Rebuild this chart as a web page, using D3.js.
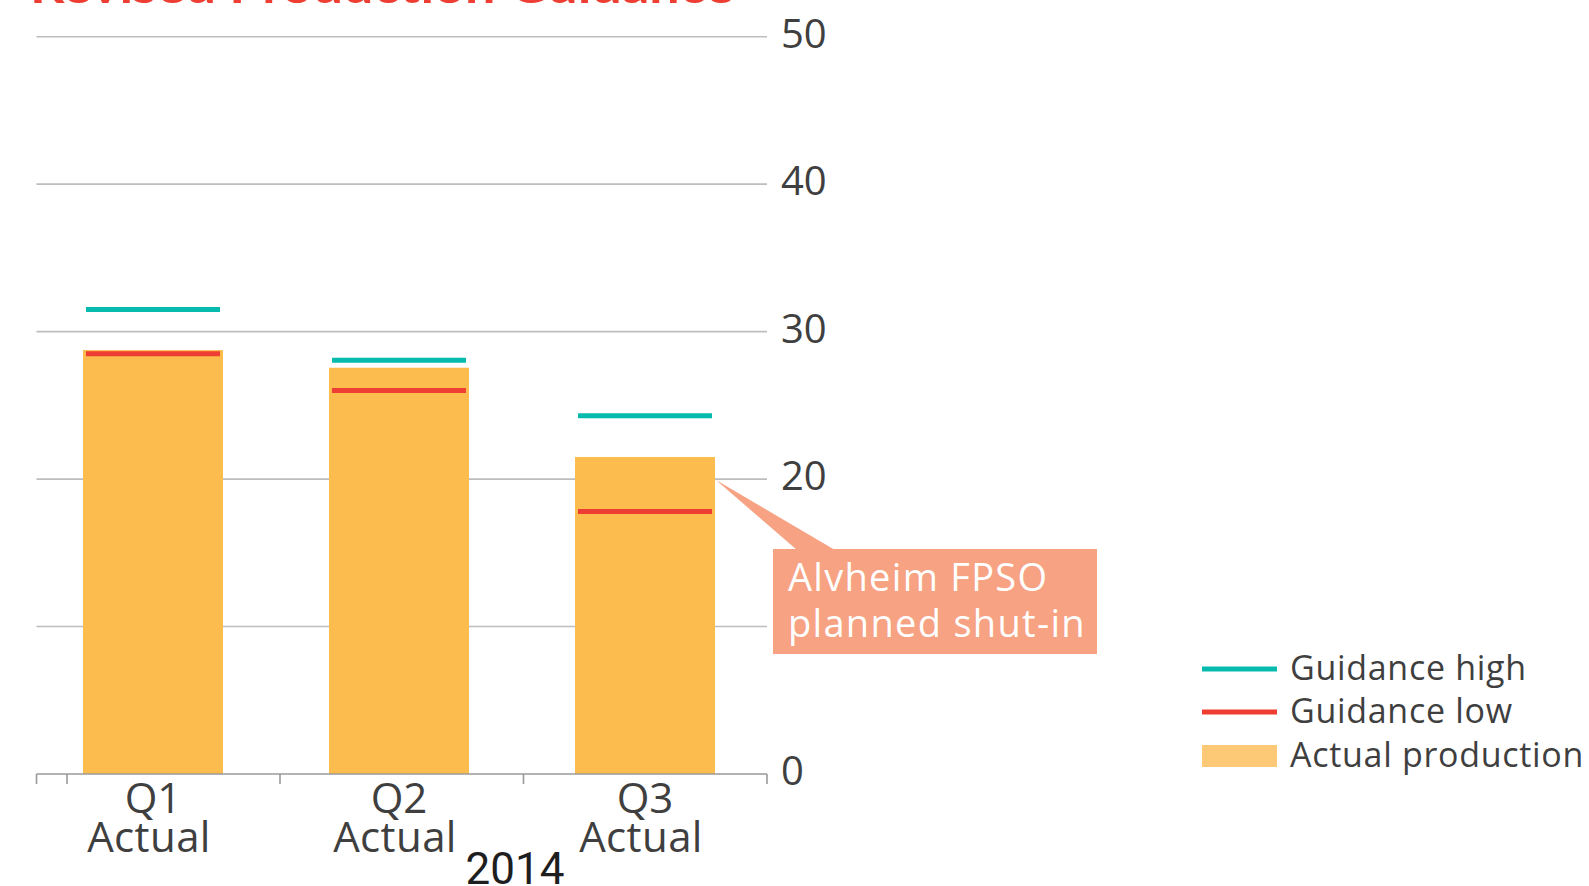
<!DOCTYPE html>
<html>
<head>
<meta charset="utf-8">
<script src="https://cdn.jsdelivr.net/npm/d3@7"></script>
<style>
  html, body { margin: 0; padding: 0; background: #ffffff; }
  svg { display: block; }
</style>
</head>
<body>
<div id="chart"></div>
<script>
// ---- data ----
const quarters = ["Q1", "Q2", "Q3"];
const quarterSub = ["Actual", "Actual", "Actual"];
const yearLabel = "2014";
const actualProduction = [28.75, 27.55, 21.5];
const guidanceHigh = [31.5, 28.05, 24.3];
const guidanceLow = [28.5, 26.0, 17.8];
const yTicks = [0, 10, 20, 30, 40, 50];
const yTickLabels = ["0", "10", "20", "30", "40", "50"];
const legendLabels = ["Guidance high", "Guidance low", "Actual production"];
const titleText = "Revised Production Guidance";
const annotationLines = ["Alvheim FPSO", "planned shut-in"];
const annotationTarget = { quarter: "Q3", value: 20 };

// ---- styles ----
const C = {
  bar: "#FCBD4E",
  barLegend: "#FDC977",
  high: "#06BBAE",
  low: "#EE3D33",
  grid: "#BDBDBD",
  axis: "#9A9A9A",
  text: "#3F3F3F",
  year: "#1E1E1E",
  note: "#F6A283",
  title: "#EE3D33"
};
const FONT = "'Open Sans', 'Noto Sans', sans-serif";

const W = 1589, H = 886;
const svg = d3.select("#chart").append("svg").attr("width", W).attr("height", H);

// scales
const y = d3.scaleLinear().domain([0, 50]).range([774, 36.7]);
const xAxisBand = d3.scaleBand().domain(quarters).range([36.5, 767]);
const xBar = d3.scalePoint().domain(quarters).range([153, 645]);
const barW = 140;
const lineW = 134;

// title (cut off at top)
svg.append("text")
  .attr("x", 30).attr("y", 3)
  .attr("font-family", "Lato, sans-serif")
  .attr("font-weight", 700)
  .attr("font-size", 48)
  .attr("fill", C.title)
  .attr("textLength", 704)
  .attr("lengthAdjust", "spacingAndGlyphs")
  .text(titleText);

// gridlines
svg.append("g").selectAll("line")
  .data(yTicks.filter(d => d !== 0))
  .join("line")
  .attr("x1", xAxisBand.range()[0]).attr("x2", xAxisBand.range()[1])
  .attr("y1", d => y(d)).attr("y2", d => y(d))
  .attr("stroke", C.grid).attr("stroke-width", 1.6);

// y tick labels (right side)
svg.append("g").selectAll("text")
  .data(yTicks)
  .join("text")
  .attr("x", 781)
  .attr("y", d => y(d) + 11)
  .attr("font-family", FONT)
  .attr("font-size", 40)
  .attr("fill", C.text)
  .text((d, i) => yTickLabels[i]);

// bars
svg.append("g").selectAll("rect")
  .data(quarters)
  .join("rect")
  .attr("x", d => xBar(d) - barW / 2)
  .attr("width", barW)
  .attr("y", (d, i) => y(actualProduction[i]))
  .attr("height", (d, i) => y(0) - y(actualProduction[i]))
  .attr("fill", C.bar);

// guidance lines
function guidance(values, color) {
  svg.append("g").selectAll("line")
    .data(quarters)
    .join("line")
    .attr("x1", d => xBar(d) - lineW / 2)
    .attr("x2", d => xBar(d) + lineW / 2)
    .attr("y1", (d, i) => y(values[i]))
    .attr("y2", (d, i) => y(values[i]))
    .attr("stroke", color).attr("stroke-width", 5);
}
guidance(guidanceHigh, C.high);
guidance(guidanceLow, C.low);

// x axis line + ticks
const axisG = svg.append("g");
const [x0, x1] = xAxisBand.range();
axisG.append("line")
  .attr("x1", x0).attr("x2", x1)
  .attr("y1", y(0)).attr("y2", y(0))
  .attr("stroke", C.axis).attr("stroke-width", 1.6);
const boundaries = quarters.map(q => xAxisBand(q)).concat([x1]);
boundaries.push(x0 + 30.5);
axisG.selectAll("line.tick")
  .data(boundaries)
  .join("line")
  .attr("class", "tick")
  .attr("x1", d => d).attr("x2", d => d)
  .attr("y1", y(0)).attr("y2", y(0) + 10)
  .attr("stroke", C.axis).attr("stroke-width", 1.6);

// x labels
const xl = svg.append("g");
xl.selectAll("text.q")
  .data(quarters)
  .join("text")
  .attr("class", "q")
  .attr("x", d => xBar(d))
  .attr("y", 813)
  .attr("text-anchor", "middle")
  .attr("font-family", FONT)
  .attr("font-size", 42)
  .attr("fill", C.text)
  .text(d => d);
xl.selectAll("text.s")
  .data(quarters)
  .join("text")
  .attr("class", "s")
  .attr("x", d => xBar(d) - 4)
  .attr("y", 852)
  .attr("text-anchor", "middle")
  .attr("font-family", FONT)
  .attr("font-size", 42)
  .attr("letter-spacing", 0.4)
  .attr("fill", C.text)
  .text((d, i) => quarterSub[i]);
xl.append("text")
  .attr("x", (xBar("Q2") + xBar("Q3")) / 2 - 7)
  .attr("y", 884)
  .attr("text-anchor", "middle")
  .attr("font-family", "Roboto, sans-serif")
  .attr("font-size", 44)
  .attr("fill", C.year)
  .text(yearLabel);

// annotation
const tipX = xBar(annotationTarget.quarter) + barW / 2 + 1;
const tipY = y(annotationTarget.value) + 1;
const box = { x: 773, y: 549, w: 324, h: 105 };
svg.append("path")
  .attr("d", `M${tipX},${tipY} L${box.x + 24},${box.y + 1} L${box.x + 62},${box.y + 1} Z`)
  .attr("fill", C.note);
svg.append("rect")
  .attr("x", box.x).attr("y", box.y)
  .attr("width", box.w).attr("height", box.h)
  .attr("fill", C.note);
svg.append("g").selectAll("text")
  .data(annotationLines)
  .join("text")
  .attr("x", box.x + 15)
  .attr("y", (d, i) => box.y + 42 + i * 46)
  .attr("font-family", FONT)
  .attr("font-size", 38)
  .attr("letter-spacing", 1.3)
  .attr("fill", "#ffffff")
  .text(d => d);

// legend
const lg = svg.append("g").attr("transform", "translate(1202,0)");
const legendYs = [669, 712, 756];
lg.append("line").attr("x1", 0).attr("x2", 75).attr("y1", legendYs[0]).attr("y2", legendYs[0])
  .attr("stroke", C.high).attr("stroke-width", 5);
lg.append("line").attr("x1", 0).attr("x2", 75).attr("y1", legendYs[1]).attr("y2", legendYs[1])
  .attr("stroke", C.low).attr("stroke-width", 5);
lg.append("rect").attr("x", 0).attr("y", 745).attr("width", 75).attr("height", 22)
  .attr("fill", C.barLegend);
lg.selectAll("text")
  .data(legendLabels)
  .join("text")
  .attr("x", 88)
  .attr("y", (d, i) => [680, 723, 767][i])
  .attr("font-family", FONT)
  .attr("font-size", 34)
  .attr("letter-spacing", 0.7)
  .attr("fill", C.text)
  .text(d => d);
</script>
</body>
</html>
